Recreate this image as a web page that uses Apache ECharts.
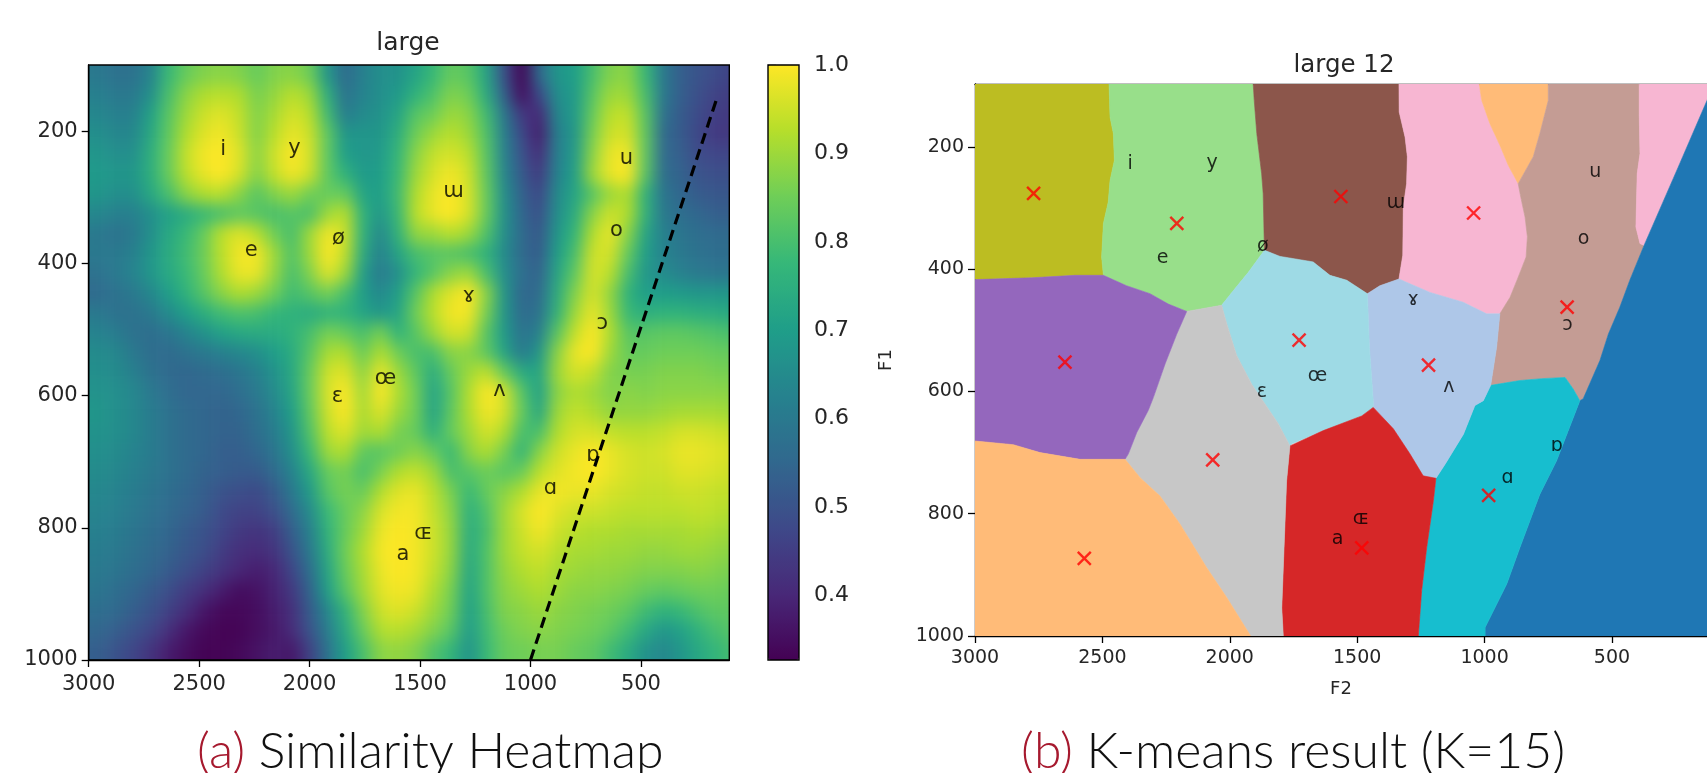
<!DOCTYPE html>
<html><head><meta charset="utf-8">
<script src="https://cdn.jsdelivr.net/npm/echarts@6/dist/echarts.min.js"></script>
<style>
html,body{margin:0;padding:0;background:#fff;overflow:hidden}
#chart{width:1707px;height:773px}
/* the first canvas layer only holds the similarity cells: soften them and trim to the plot frame */
#chart canvas:first-child{filter:blur(8px);clip-path:inset(65px 978px 113px 88px)}
</style></head><body><div id="chart"></div>
<script>
var f2Ticks=[3000,2500,2000,1500,1000,500];
var f1Ticks=[200,400,600,800,1000];
var barTicks=[1.0,0.9,0.8,0.7,0.6,0.5,0.4];
var f2Cells=[2960,2880,2800,2720,2640,2560,2480,2400,2320,2240,2160,2080,2000,1920,1840,1760,1680,1600,1520,1440,1360,1280,1200,1120,1040,960,880,800,720,640,560,480,400,320,240,160,80];
var f1Cells=[115,145,175,205,235,265,295,325,355,385,415,445,475,505,535,565,595,625,655,685,715,745,775,805,835,865,895,925,955,985];
var similarity=[
[60,58,58,63,78,84,87,88,87,84,87,88,85,68,56,62,66,67,72,78,84,82,72,50,33,56,68,70,80,87,88,78,60,53,50,48,46],
[62,60,60,66,80,88,92,93,92,86,89,93,90,75,58,63,66,69,76,81,87,85,74,54,35,48,66,69,82,90,90,80,60,53,49,46,45],
[64,62,62,71,82,90,95,97,94,87,91,96,93,79,61,65,67,72,82,85,90,88,79,60,44,40,64,69,84,93,94,82,58,52,48,45,44],
[66,64,64,73,83,92,97,99,95,87,93,98,95,83,68,68,68,75,85,90,93,90,81,62,48,38,62,68,86,95,96,83,56,52,47,44,44],
[68,66,66,75,84,94,99,100,97,88,95,100,96,83,70,68,69,77,88,94,96,93,82,63,50,41,62,69,88,98,99,83,56,53,48,47,47],
[69,68,68,75,84,93,98,100,96,87,94,99,95,83,76,69,70,78,90,96,99,95,83,64,52,44,63,70,90,98,100,82,57,54,50,49,49],
[68,66,66,73,80,88,92,93,88,82,87,90,85,84,84,72,70,79,92,98,100,96,84,66,54,47,65,72,82,90,92,76,59,55,52,51,51],
[64,62,62,66,71,74,78,80,83,82,80,82,80,90,93,76,68,78,93,98,100,96,84,67,55,49,66,74,88,95,92,76,60,57,55,53,53],
[60,58,60,66,73,78,84,93,97,93,85,80,90,99,95,76,64,76,89,90,93,90,81,66,56,51,68,77,92,98,88,72,62,59,57,56,56],
[60,60,62,68,74,79,85,93,99,99,90,81,90,100,94,74,62,72,80,82,82,80,76,65,56,52,70,80,95,96,84,70,63,60,58,57,57],
[58,60,63,68,73,78,84,92,98,98,89,80,87,97,90,70,60,66,77,82,88,90,80,66,57,54,72,83,96,93,80,68,65,62,60,59,59],
[56,58,60,64,70,76,82,88,92,90,85,79,82,86,80,70,64,70,82,92,97,100,88,68,55,56,74,87,96,89,76,70,70,69,68,68,68],
[60,58,58,60,65,70,75,79,81,80,77,76,74,76,76,72,68,72,85,93,99,99,86,68,56,58,76,90,98,90,78,75,76,76,75,74,73],
[63,61,58,57,59,63,67,71,73,74,74,76,80,86,84,80,86,76,82,90,96,95,82,69,58,62,82,94,100,92,82,82,83,83,82,81,80],
[65,64,60,57,56,58,60,62,64,66,70,74,82,91,92,84,92,85,80,80,88,88,83,72,60,68,88,98,100,90,84,84,85,85,85,84,84],
[66,65,62,58,56,55,56,57,59,62,67,73,84,95,97,88,98,90,83,74,84,90,94,84,74,72,90,96,94,87,86,86,87,87,87,86,86],
[67,66,64,60,57,55,55,55,57,60,65,72,84,96,100,90,100,92,85,71,82,92,100,96,82,70,88,92,90,87,88,87,88,88,88,88,88],
[68,66,64,61,58,56,55,54,55,58,63,70,83,95,100,91,97,90,85,71,83,92,99,96,84,72,90,94,92,89,89,89,90,91,91,91,90],
[67,66,64,61,58,56,55,54,54,57,61,68,81,93,97,90,92,86,84,75,84,90,96,92,80,80,92,96,96,94,93,93,94,96,96,95,94],
[66,65,63,61,58,56,55,53,53,55,59,66,78,90,92,83,82,85,88,84,78,88,92,86,76,88,95,98,100,98,96,95,96,98,98,97,96],
[65,64,62,60,58,56,54,53,52,52,56,63,73,84,86,80,86,92,94,90,80,82,85,82,84,93,97,99,100,98,96,95,95,97,97,96,95],
[64,63,61,59,57,55,53,50,49,48,52,60,69,82,86,84,92,97,98,93,86,78,84,88,92,98,99,98,98,96,95,94,94,95,95,94,94],
[63,62,60,58,56,54,52,48,46,46,49,56,65,78,84,88,96,99,99,94,88,75,81,90,96,100,97,95,95,94,93,93,93,93,94,93,92],
[62,61,59,57,55,52,50,47,44,43,45,53,62,76,84,90,98,100,99,95,89,74,80,90,95,99,95,93,92,92,91,91,91,91,92,91,90],
[61,60,58,56,54,51,49,45,42,41,43,50,60,74,85,92,99,100,99,95,89,73,81,90,94,96,93,91,91,90,90,89,89,90,90,89,88],
[60,59,57,55,52,49,46,43,40,38,40,47,57,72,84,91,98,100,99,94,88,72,81,89,92,94,91,90,89,89,88,87,87,87,88,87,86],
[59,57,55,52,49,45,42,38,35,36,39,44,54,70,82,90,97,99,98,92,86,71,81,88,90,92,90,88,88,87,86,84,83,84,85,85,84],
[57,56,53,50,46,42,37,34,34,35,38,42,52,64,76,87,95,97,95,90,85,70,80,87,88,90,88,87,86,85,83,79,76,78,81,83,83],
[55,53,50,47,42,37,34,33,33,35,37,41,50,61,73,84,92,93,91,87,82,69,79,85,87,88,87,86,85,83,79,73,68,71,76,80,82],
[53,50,47,43,38,35,33,33,34,36,38,37,46,58,70,80,88,89,87,81,77,67,78,84,85,86,86,84,83,79,74,67,64,68,73,77,80]
];
var dashedLine=[[1000,1000],[156,150]];
var phonemes=[['i',2391,228],['y',2069,226],['e',2264,381],['ø',1870,362],['ɯ',1349,291],['u',566,241],['o',611,350],['ɤ',1280,450],['ɔ',675,491],['ʌ',1140,593],['œ',1656,574],['ɛ',1874,601],['ɒ',717,690],['ɑ',910,741],['ɶ',1485,809],['a',1577,841]];
var centroids=[[2770,276],[2208,325],[2647,552],[1564,281],[1043,308],[676,462],[1728,516],[1220,557],[2067,712],[2571,873],[1482,856],[984,770]];
var regionOlive=[[3000,97],[2474,97],[2470,151],[2457,178],[2453,222],[2470,255],[2477,290],[2496,325],[2503,380],[2496,410],[2608,410],[2778,414],[3000,417]];
var regionGreen=[[2474,97],[1908,97],[1904,124],[1894,178],[1875,244],[1869,276],[1864,369],[1927,405],[1980,432],[2032,459],[2169,469],[2241,457],[2313,440],[2405,427],[2496,410],[2503,380],[2496,325],[2477,290],[2470,255],[2453,222],[2457,178],[2470,151]];
var regionBrown=[[1908,97],[1336,97],[1335,143],[1312,184],[1303,216],[1306,260],[1319,298],[1321,377],[1336,416],[1411,427],[1460,440],[1541,418],[1607,410],[1673,388],[1803,379],[1864,369],[1869,276],[1875,244],[1894,178],[1904,124]];
var regionPink=[[1336,97],[1021,97],[1011,124],[979,162],[940,197],[907,230],[868,260],[858,282],[841,315],[832,347],[837,380],[868,413],[900,446],[940,473],[992,473],[1084,454],[1214,438],[1336,416],[1321,377],[1319,298],[1306,260],[1303,216],[1312,184],[1335,143]];
var regionPeach=[[1021,97],[750,97],[750,124],[783,178],[809,216],[868,260],[907,230],[940,197],[979,162],[1011,124]];
var regionRosy=[[750,97],[393,97],[393,145],[390,211],[401,244],[406,331],[390,358],[374,361],[430,418],[469,462],[514,506],[547,549],[613,612],[626,615],[652,596],[684,577],[776,579],[861,582],[976,590],[953,528],[940,473],[900,446],[868,413],[837,380],[832,347],[841,315],[858,282],[868,260],[809,216],[783,178],[750,124]];
var regionPinkRight=[[393,97],[100,97],[127,124],[240,233],[374,361],[390,358],[406,331],[401,244],[390,211],[393,145]];
var regionBlue=[[100,97],[127,124],[240,233],[374,361],[430,418],[469,462],[514,506],[547,549],[613,612],[626,615],[717,713],[783,768],[861,855],[913,915],[998,986],[998,1000],[100,1000]];
var regionTeal=[[1005,615],[976,590],[861,582],[776,579],[684,577],[652,596],[626,615],[717,713],[783,768],[861,855],[913,915],[998,986],[998,1000],[1260,1000],[1247,926],[1227,855],[1201,779],[1191,742],[1155,719],[1083,670],[1038,623]];
var regionSky=[[1336,416],[1214,438],[1084,454],[992,473],[940,473],[953,528],[976,590],[1005,615],[1038,623],[1083,670],[1155,719],[1191,742],[1241,738],[1293,702],[1358,661],[1437,626],[1437,615],[1452,528],[1460,440],[1411,427]];
var regionAqua=[[1864,369],[1803,379],[1673,388],[1607,410],[1541,418],[1460,440],[1452,528],[1437,615],[1437,626],[1482,640],[1633,664],[1757,686],[1764,689],[1809,653],[1914,588],[1973,541],[2012,489],[2032,459],[1980,432],[1927,405]];
var regionRed=[[1437,626],[1482,640],[1633,664],[1764,689],[1777,746],[1787,855],[1796,954],[1790,1000],[1260,1000],[1247,926],[1227,855],[1201,779],[1191,742],[1241,738],[1293,702],[1358,661]];
var regionGray=[[2169,469],[2032,459],[2012,489],[1973,541],[1914,588],[1809,653],[1764,689],[1777,746],[1787,855],[1796,954],[1790,1000],[1918,1000],[2012,937],[2091,888],[2195,817],[2274,771],[2352,741],[2411,711],[2398,702],[2365,667],[2320,631],[2300,610],[2254,555],[2208,506]];
var regionPurple=[[3000,417],[2778,414],[2608,410],[2496,410],[2405,427],[2313,440],[2241,457],[2169,469],[2208,506],[2254,555],[2300,610],[2320,631],[2365,667],[2398,702],[2411,711],[2588,711],[2745,700],[2850,687],[3000,681]];
var regionApricot=[[3000,681],[2850,687],[2745,700],[2588,711],[2411,711],[2352,741],[2274,771],[2195,817],[2091,888],[2012,937],[1918,1000],[3000,1000]];
var regions=[
 {points:regionOlive,color:'#bcbd22'},{points:regionGreen,color:'#98df8a'},{points:regionBrown,color:'#8c564b'},
 {points:regionPink,color:'#f7b6d2'},{points:regionPeach,color:'#ffbb78'},{points:regionRosy,color:'#c49c94'},
 {points:regionPinkRight,color:'#f7b6d2'},{points:regionBlue,color:'#1f77b4'},{points:regionTeal,color:'#17becf'},
 {points:regionSky,color:'#aec7e8'},{points:regionAqua,color:'#9edae5'},{points:regionRed,color:'#d62728'},
 {points:regionGray,color:'#c7c7c7'},{points:regionPurple,color:'#9467bd'},{points:regionApricot,color:'#ffbb78'}];
var viridis=['#440154','#482878','#3e4989','#31688e','#26828e','#1f9e89','#35b779','#6ece58','#b5de2b','#fde725'];

var heatData=[];
similarity.forEach(function(row,r){row.forEach(function(v,c){heatData.push([f2Cells[c],f1Cells[r],v/100,c,r]);});});
var FONT='DejaVu Sans',TXT='#262626',Z=1;
function plain(v){return String(v);}

function cellItem(params,api){
  var c=api.value(3),r=api.value(4),f2=api.value(0),f1=api.value(1);
  var a=api.coord([f2+40,f1-15]),b=api.coord([f2-40,f1+15]);
  var x0=a[0],y0=a[1],x1=b[0],y1=b[1];
  if(c===0)x0-=40; if(c===f2Cells.length-1)x1+=40;
  if(r===0)y0-=40; if(r===f1Cells.length-1)y1+=40;
  return {type:'rect',shape:{x:x0,y:y0,width:x1-x0+0.5,height:y1-y0+0.5},style:{fill:api.visual('color')}};
}
function regionItem(params,api){
  var reg=regions[params.dataIndex];
  var pts=reg.points.map(function(p){return api.coord(p);});
  return {type:'polygon',shape:{points:pts},style:{fill:reg.color,stroke:reg.color,lineWidth:0.6}};
}
function xAx(g,size,minV,mg){return {type:'value',gridIndex:g,zlevel:Z,inverse:true,min:minV,max:3000,position:'bottom',
  axisLine:{onZero:false,lineStyle:{color:'#000',width:1.4}},axisTick:{customValues:f2Ticks,length:7,lineStyle:{color:'#000',width:1.3}},
  axisLabel:{customValues:f2Ticks,formatter:plain,fontFamily:FONT,fontSize:size,color:TXT,margin:mg},splitLine:{show:false}};}
function yAx(g,size,minV){return {type:'value',gridIndex:g,zlevel:Z,inverse:true,min:minV,max:1000,position:'left',
  axisLine:{onZero:false,lineStyle:{color:'#000',width:1.4}},axisTick:{customValues:f1Ticks,length:7,lineStyle:{color:'#000',width:1.3}},
  axisLabel:{customValues:f1Ticks,formatter:plain,fontFamily:FONT,fontSize:size,color:TXT,margin:11},splitLine:{show:false}};}
var xLeft=xAx(0,21,100,14),yLeft=yAx(0,21,100),xRight=xAx(1,19,127,13),yRight=yAx(1,19,97);
xRight.name='F2';xRight.nameLocation='middle';xRight.nameGap=44;xRight.nameTextStyle={fontFamily:FONT,fontSize:18,color:TXT};
yRight.name='F1';yRight.nameLocation='middle';yRight.nameGap=80;yRight.nameTextStyle={fontFamily:FONT,fontSize:18,color:TXT};
var xRightTop={type:'value',gridIndex:1,zlevel:Z,inverse:true,min:127,max:3000,position:'top',
  axisLine:{onZero:false,lineStyle:{color:'#000',width:1.4}},axisTick:{show:false},axisLabel:{show:false},splitLine:{show:false}};

function labels(xi,yi,size){return {type:'scatter',zlevel:Z,z:6,xAxisIndex:xi,yAxisIndex:yi,symbolSize:1,itemStyle:{color:'transparent'},silent:true,
  data:phonemes.map(function(p){return {value:[p[1],p[2]],name:p[0]};}),
  label:{show:true,position:'inside',formatter:'{b}',fontFamily:FONT,fontSize:size,color:'#000'}};}

var capRich={a:{fontFamily:'Lato',fontWeight:300,fontSize:50,color:'#a6192e'},b:{fontFamily:'Lato',fontWeight:300,fontSize:50,color:'#111'}};
var option={
 animation:false,backgroundColor:'transparent',
 title:[
  {text:'large',left:403,top:26,textAlign:'center',zlevel:Z,textStyle:{fontFamily:FONT,fontWeight:'normal',fontSize:25,color:TXT}},
  {text:'large 12',left:1339,top:48,textAlign:'center',zlevel:Z,textStyle:{fontFamily:FONT,fontWeight:'normal',fontSize:24.5,color:TXT}},
  {text:'{a|(a) }{b|Similarity Heatmap}',left:192,top:722,zlevel:Z,textStyle:{rich:capRich}},
  {text:'{a|(b) }{b|K-means result (K=15)}',left:1016,top:722,zlevel:Z,textStyle:{rich:capRich}}
 ],
 grid:[
  {left:88.7,top:65,width:640.6,height:595,show:true,z:10,zlevel:Z,backgroundColor:'transparent',borderColor:'#000',borderWidth:1.4},
  {left:975,top:84,width:732,height:552,show:false},
  {left:768,top:65,width:31,height:595,show:true,z:10,zlevel:Z,backgroundColor:'transparent',borderColor:'#000',borderWidth:1.4}
 ],
 xAxis:[xLeft,xRight,{type:'value',gridIndex:2,zlevel:Z,show:false,min:0,max:1},xRightTop],
 yAxis:[yLeft,yRight,{type:'value',gridIndex:2,zlevel:Z,position:'right',min:0.327,max:1,
   axisLine:{show:false},axisTick:{customValues:barTicks,length:8,lineStyle:{color:'#000',width:1.3}},
   axisLabel:{customValues:barTicks,formatter:function(v){return v.toFixed(1);},fontFamily:FONT,fontSize:22,color:TXT,margin:15},splitLine:{show:false}}],
 visualMap:{type:'continuous',seriesIndex:0,dimension:2,min:0.327,max:1,calculable:false,realtime:false,hoverLink:false,
   left:768,top:65,itemWidth:31,itemHeight:595,padding:0,text:null,showLabel:false,zlevel:Z,inRange:{color:viridis}},
 series:[
  {type:'custom',zlevel:0,xAxisIndex:0,yAxisIndex:0,clip:false,silent:true,renderItem:cellItem,encode:{x:0,y:1},data:heatData},
  {type:'line',zlevel:Z,z:5,xAxisIndex:0,yAxisIndex:0,data:dashedLine,symbol:'none',silent:true,lineStyle:{color:'#000',width:3.2,type:[11,6]}},
  labels(0,0,21),
  {type:'custom',zlevel:Z,z:2,xAxisIndex:1,yAxisIndex:1,clip:true,silent:true,renderItem:regionItem,data:regions.map(function(r,i){return [i];})},
  labels(1,1,19),
  {type:'scatter',zlevel:Z,z:7,xAxisIndex:1,yAxisIndex:1,silent:true,symbol:'path://M0,0L10,10M10,0L0,10',symbolSize:13,data:centroids,
   itemStyle:{color:'transparent',borderColor:'#ff0000',borderWidth:2.4}}
 ]
};
var chart=echarts.init(document.getElementById('chart'),null,{renderer:'canvas'});
chart.setOption(option);
</script></body></html>
